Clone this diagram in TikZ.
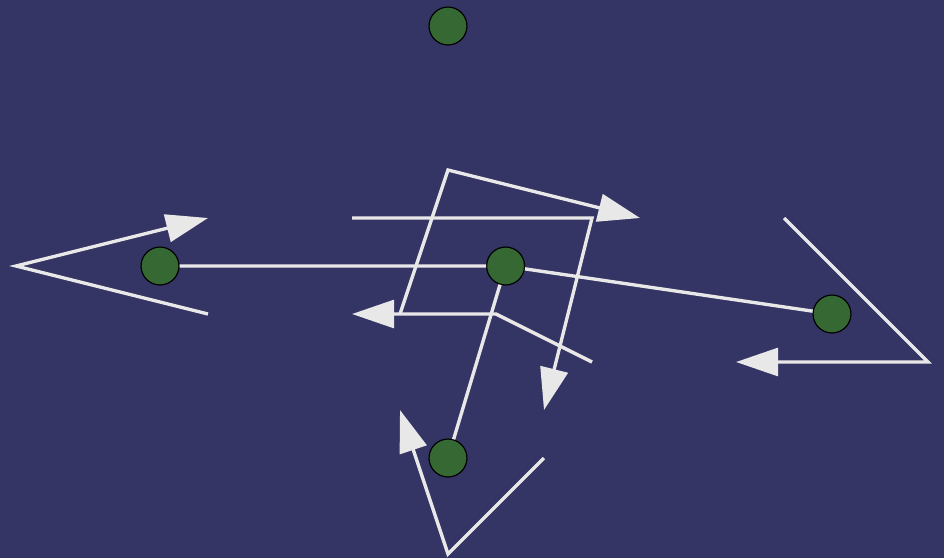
\documentclass[tikz,border=0pt]{standalone}
\usetikzlibrary{arrows.meta}
\definecolor{bgblue}{RGB}{52,52,101}
\definecolor{dotgreen}{RGB}{53,104,50}
\definecolor{wiregray}{RGB}{232,232,232}
\begin{document}
\begin{tikzpicture}[x=1cm,y=-1cm,line join=miter,>={Triangle[length=0.875cm,width=0.58cm]},
	dot/.style={circle,fill=dotgreen,draw=black,line width=0.7pt,minimum size=0.79cm,inner sep=0pt},
	wire/.style={draw=wiregray,line width=2pt}]
	\fill[bgblue] (-0.3333,-0.5417) rectangle (19.3333,11.0833);
	% arrows
	\draw[wire,->] (4,6)--(0,5)--(4,4);
	\draw[wire,->] (7,4)--(12,4)--(11,8);
	\draw[wire,->] (8,6)--(9,3)--(13,4);
	\draw[wire,->] (12,7)--(10,6)--(7,6);
	\draw[wire,->] (11,9)--(9,11)--(8,8);
	\draw[wire,->] (16,4)--(19,7)--(15,7);
	% nodes
	\node[dot] (top) at (9,0) {};
	\node[dot] (left) at (3,5) {};
	\node[dot] (hub) at (10.2,5) {};
	\node[dot] (right) at (17,6) {};
	\node[dot] (bottom) at (9,9) {};
	\draw[wire] (left)--(hub) (hub)--(right) (hub)--(bottom);
\end{tikzpicture}
\end{document}
